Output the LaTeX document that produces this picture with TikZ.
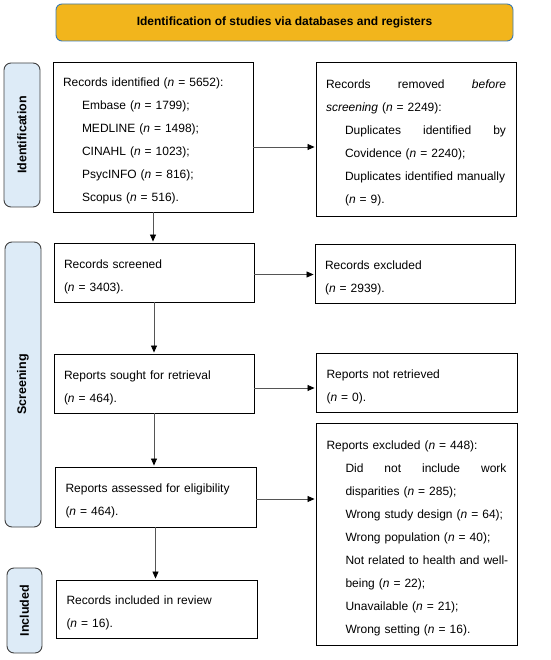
\documentclass[tikz,border=0pt]{standalone}
\usepackage{fontspec}
\setmainfont{Liberation Sans}
\usetikzlibrary{arrows.meta}
\definecolor{bannerfill}{HTML}{F2B51C}
\definecolor{bannerline}{HTML}{3D7AAE}
\definecolor{phasefill}{HTML}{DDEBF7}
\definecolor{phaseline}{HTML}{404040}
\definecolor{arrline}{HTML}{555555}
\newcommand\jline[1]{\hbox to 180pt{#1}}
\newcommand\iline[1]{\hspace*{19pt}\mbox{#1}}
\newcommand\ijline[1]{\hspace*{19pt}\hbox to 161pt{#1}}
\newcommand\nn{\textit{n}}
\begin{document}
\begin{tikzpicture}[x=1pt,y=-1pt,
  flowbox/.style={draw=black,line width=0.9pt,fill=white,text width=180pt,
    inner xsep=10pt,inner ysep=2pt,align=left,
    font=\fontsize{12}{23}\selectfont,anchor=center,minimum width=200pt,
    execute at begin node={\rule{0pt}{17pt}}},
  phasebox/.style={draw=phaseline,line width=0.9pt,fill=phasefill,rounded corners=7pt,
    rotate=90,anchor=center,font=\fontsize{12.5}{14}\selectfont\bfseries,inner sep=0pt},
  bannerbox/.style={draw=bannerline,line width=0.9pt,fill=bannerfill,rounded corners=6pt,
    anchor=center,font=\fontsize{12}{14}\selectfont\bfseries,inner sep=0pt},
  arr/.style={draw=arrline,line width=0.8pt,-{Triangle[length=7pt,width=6pt,color=black]},shorten >=1pt}
]
\useasboundingbox (0,0) rectangle (550,660);

\node[bannerbox,minimum width=457pt,minimum height=37pt] (banner) at (284.5,22.5)
  {Identification of studies via databases and registers};

\node[phasebox,minimum width=144pt,minimum height=36pt] (pid) at (22,135) {Identification};
\node[phasebox,minimum width=285pt,minimum height=36pt] (pscr) at (23,384.5) {Screening};
\node[phasebox,minimum width=85pt,minimum height=35pt] (pinc) at (24.5,610.5) {Included};

\node[flowbox,minimum height=150pt] (ident) at (153,137) {%
Records identified (\nn{} = 5652):\\
\iline{Embase (\nn{} = 1799);}\\
\iline{MEDLINE (\nn{} = 1498);}\\
\iline{CINAHL (\nn{} = 1023);}\\
\iline{PsycINFO (\nn{} = 816);}\\
\iline{Scopus (\nn{} = 516).}};

\node[flowbox,minimum height=154pt] (removed) at (416,139) {%
\jline{Records\hfill removed\hfill \textit{before}}\\
\textit{screening} (\nn{} = 2249):\\
\ijline{Duplicates\hfill identified\hfill by}\\
\iline{Covidence (\nn{} = 2240);}\\
\iline{Duplicates identified manually}\\
\iline{(\nn{} = 9).}};

\node[flowbox,minimum height=59pt] (screened) at (154,272.5) {%
Records screened\\
(\nn{} = 3403).};

\node[flowbox,minimum height=59pt] (excluded) at (415,273.5) {%
Records excluded\\
(\nn{} = 2939).};

\node[flowbox,minimum height=59pt] (sought) at (154,383.5) {%
Reports sought for retrieval\\
(\nn{} = 464).};

\node[flowbox,minimum height=59pt,minimum width=201pt] (notret) at (416.5,382.5) {%
Reports not retrieved\\
(\nn{} = 0).};

\node[flowbox,minimum height=60pt,minimum width=201pt] (assessed) at (155.5,497) {%
Reports assessed for eligibility\\
(\nn{} = 464).};

\node[flowbox,minimum height=222pt,minimum width=201pt,
  execute at begin node={\rule{0pt}{11pt}}] (repexcl) at (416.5,534) {%
Reports excluded (\nn{} = 448):\\
\ijline{Did\hfill not\hfill include\hfill work}\\
\iline{disparities (\nn{} = 285);}\\
\iline{Wrong study design (\nn{} = 64);}\\
\iline{Wrong population (\nn{} = 40);}\\
\iline{Not related to health and well-}\\
\iline{being (\nn{} = 22);}\\
\iline{Unavailable (\nn{} = 21);}\\
\iline{Wrong setting (\nn{} = 16).}};

\node[flowbox,minimum height=58pt,minimum width=201pt] (included) at (156.5,609) {%
Records included in review\\
(\nn{} = 16).};

% vertical arrows
\draw[arr] (ident.south) -- (ident.south |- screened.north);
\draw[arr] (screened.south) -- (screened.south |- sought.north);
\draw[arr] (sought.south) -- (sought.south |- assessed.north);
\draw[arr] (assessed.south) -- (assessed.south |- included.north);

% horizontal arrows
\draw[arr] ([yshift=-10pt]ident.east) -- ([yshift=-10pt]ident.east -| removed.west);
\draw[arr] ([yshift=-2pt]screened.east) -- ([yshift=-2pt]screened.east -| excluded.west);
\draw[arr] ([yshift=-4.5pt]sought.east) -- ([yshift=-4.5pt]sought.east -| notret.west);
\draw[arr] ([yshift=-2pt]assessed.east) -- ([yshift=-2pt]assessed.east -| repexcl.west);
\end{tikzpicture}
\end{document}
